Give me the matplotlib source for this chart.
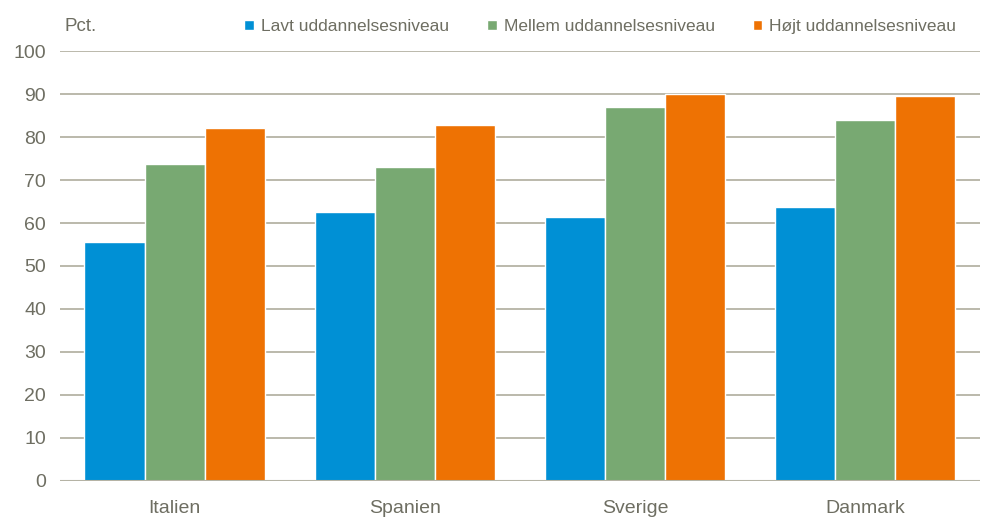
import matplotlib.pyplot as plt
import numpy as np

plt.rcParams['font.family'] = ['Liberation Sans', 'DejaVu Sans']

countries = ["Italien", "Spanien", "Sverige", "Danmark"]
series_names = ["Lavt uddannelsesniveau", "Mellem uddannelsesniveau", "Højt uddannelsesniveau"]
lavt = [55.6, 62.6, 61.5, 63.7]
mellem = [73.7, 73.0, 86.9, 83.9]
hojt = [82.1, 82.8, 90.1, 89.5]
colors = ["#0090D5", "#78A972", "#EE7203"]
text_col = "#6E6E62"
grid_col = "#B5B3A5"

fig = plt.figure(figsize=(9.81, 5.17), dpi=100)
ax = fig.add_axes([0.061, 0.070, 0.938, 0.831])

x = np.arange(len(countries))
w = 0.262
for i, (vals, name, c) in enumerate(zip([lavt, mellem, hojt], series_names, colors)):
    ax.bar(x + (i - 1) * w, vals, width=w, color=c, edgecolor="white", linewidth=1.0,
           label=name, zorder=3)

ax.set_xlim(-0.5, len(countries) - 0.5)
ax.set_ylim(0, 100)
ax.set_yticks(range(0, 101, 10))
ax.yaxis.grid(True, color=grid_col, linewidth=1.3, zorder=0)
ax.set_xticks(x)
ax.set_xticklabels(countries)
for s in ax.spines.values():
    s.set_visible(False)
ax.axhline(0, color=grid_col, linewidth=1.5, zorder=4)
ax.tick_params(axis="both", length=0, labelsize=14, colors=text_col)
ax.tick_params(axis="y", pad=10)
ax.tick_params(axis="x", pad=14)

fig.text(0.066, 0.948, "Pct.", fontsize=13.5, color=text_col, va="center")

leg = fig.legend(loc="center", bbox_to_anchor=(0.612, 0.948), ncol=3, frameon=False,
                 fontsize=12.5, handlelength=0.55, handleheight=0.55, handletextpad=0.4,
                 columnspacing=2.2, labelcolor=text_col)

fig.savefig("out.png", dpi=100)
